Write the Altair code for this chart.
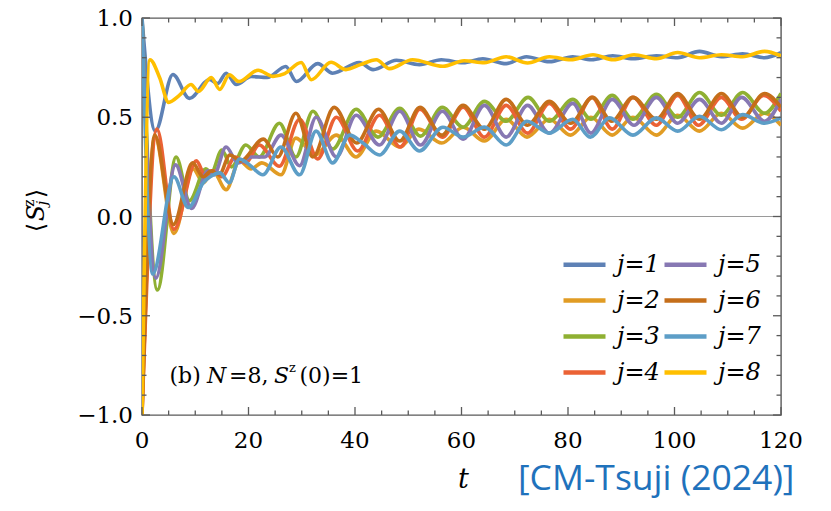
import altair as alt
import pandas as pd

# ---------------- data ----------------
T1 = [0, 2.5, 5.8, 8.9, 12.7, 14.2, 15.8, 17.7, 20.5, 23.5, 27.0, 29.0, 33.0, 35.8, 40.8, 43.4, 47.8,
      52.1, 56.2, 60.3, 64.0, 68.4, 72.2, 76.5, 80.9, 84.4, 88.4, 92.2, 96.6, 100.6, 104.7, 108.8, 112.8, 116.9, 120]
Y1 = [1.0, 0.43, 0.715, 0.595, 0.69, 0.67, 0.722, 0.665, 0.705, 0.70, 0.756, 0.68, 0.77, 0.722, 0.776, 0.74, 0.787,
      0.765, 0.79, 0.775, 0.795, 0.77, 0.805, 0.78, 0.805, 0.79, 0.81, 0.795, 0.81, 0.80, 0.832, 0.805, 0.82, 0.80, 0.825]

T2 = [0, 2.4, 6.0, 9.6, 11.5, 13.3, 15.8, 18.3, 20.5, 22.5, 26.1, 28.9, 32.5, 36.5, 40.2, 44.0, 48.4, 52.0, 56.3,
      60.3, 64.3, 68.4, 72.3, 76.5, 80.5, 84.3, 88.3, 92.2, 96.6, 100.6, 104.7, 108.8, 112.8, 116.9, 120]
Y2 = [-1.0, 0.40, -0.085, 0.24, 0.17, 0.23, 0.135, 0.28, 0.24, 0.27, 0.21, 0.395, 0.31, 0.41, 0.30, 0.43, 0.35, 0.44, 0.37,
      0.45, 0.38, 0.49, 0.40, 0.49, 0.41, 0.50, 0.41, 0.50, 0.41, 0.51, 0.43, 0.52, 0.445, 0.52, 0.46]

T3 = [0, 2.9, 6.4, 8.9, 12.0, 13.0, 15.0, 16.8, 19.5, 22.0, 25.8, 28.9, 32.1, 35.8, 40.2, 44.3, 48.4, 52.3, 56.4,
      60.3, 64.3, 68.4, 72.5, 76.5, 80.9, 84.3, 88.3, 92.2, 96.6, 100.6, 104.7, 108.8, 112.8, 116.9, 120]
Y3 = [1.0, -0.37, 0.30, 0.08, 0.24, 0.22, 0.335, 0.25, 0.36, 0.30, 0.47, 0.30, 0.53, 0.34, 0.54, 0.40, 0.545, 0.405, 0.55,
      0.45, 0.58, 0.48, 0.60, 0.48, 0.59, 0.49, 0.61, 0.49, 0.615, 0.50, 0.625, 0.51, 0.625, 0.52, 0.62]

T4 = [0, 2.8, 6.0, 10.2, 12.0, 13.5, 15.0, 17.5, 19.5, 22.0, 25.8, 29.6, 33.0, 36.5, 40.5, 44.6, 48.5, 52.2, 56.4,
      60.3, 64.3, 68.4, 72.4, 76.5, 80.5, 84.5, 88.3, 92.2, 96.6, 100.6, 104.5, 108.8, 112.6, 116.7, 120]
Y4 = [-1.0, 0.44, -0.065, 0.28, 0.20, 0.23, 0.20, 0.30, 0.27, 0.36, 0.253, 0.49, 0.29, 0.50, 0.33, 0.51, 0.35, 0.54, 0.40,
      0.55, 0.40, 0.56, 0.42, 0.57, 0.44, 0.60, 0.44, 0.60, 0.46, 0.61, 0.46, 0.60, 0.49, 0.61, 0.53]

T5 = [0, 2.6, 6.3, 9.3, 12.4, 13.5, 15.8, 18.0, 20.5, 23.0, 26.1, 29.6, 32.7, 36.5, 40.2, 44.6, 48.4, 52.3, 56.4,
      60.3, 64.3, 68.4, 72.4, 76.5, 80.9, 84.3, 88.3, 92.4, 96.6, 100.6, 104.7, 108.8, 112.6, 116.9, 120]
Y5 = [1.0, -0.31, 0.26, 0.04, 0.23, 0.21, 0.35, 0.27, 0.30, 0.30, 0.41, 0.256, 0.50, 0.30, 0.51, 0.36, 0.53, 0.36, 0.53,
      0.39, 0.56, 0.40, 0.56, 0.42, 0.57, 0.42, 0.59, 0.46, 0.60, 0.47, 0.59, 0.47, 0.60, 0.48, 0.59]

T6 = [0, 2.4, 5.9, 9.5, 11.5, 13.0, 14.5, 16.5, 18.5, 22.8, 25.5, 28.9, 32.1, 36.1, 40.3, 44.4, 48.4, 52.2, 56.3,
      60.3, 64.3, 68.4, 72.4, 76.5, 80.5, 84.6, 88.2, 92.2, 96.6, 100.6, 104.7, 108.8, 112.8, 116.9, 120]
Y6 = [-1.0, 0.41, -0.04, 0.27, 0.20, 0.23, 0.21, 0.31, 0.28, 0.39, 0.30, 0.52, 0.30, 0.55, 0.37, 0.54, 0.38, 0.55, 0.41,
      0.56, 0.44, 0.59, 0.46, 0.58, 0.47, 0.60, 0.48, 0.60, 0.49, 0.62, 0.49, 0.62, 0.50, 0.62, 0.55]

T7 = [0, 2.0, 6.0, 8.7, 11.5, 12.8, 14.6, 16.4, 18.3, 20.2, 22.7, 26.1, 29.6, 32.7, 35.8, 39.0, 41.5, 44.6, 48.4,
      52.1, 56.5, 60.3, 64.3, 68.4, 72.3, 76.5, 80.9, 84.2, 87.8, 92.2, 96.6, 100.6, 104.7, 108.8, 112.8, 116.9, 120]
Y7 = [1.0, -0.29, 0.20, 0.045, 0.17, 0.20, 0.22, 0.17, 0.29, 0.26, 0.21, 0.35, 0.21, 0.43, 0.27, 0.41, 0.37, 0.31, 0.43,
      0.33, 0.45, 0.40, 0.45, 0.36, 0.48, 0.42, 0.49, 0.40, 0.497, 0.41, 0.497, 0.43, 0.505, 0.437, 0.513, 0.47, 0.497]

T8 = [0, 1.5, 3.3, 5.0, 7.0, 9.2, 10.6, 13.0, 14.6, 16.4, 18.2, 21.8, 24.6, 26.8, 29.9, 31.8, 35.5, 38.3, 41.0, 44.0,
      46.5, 50.8, 56.5, 60.5, 64.3, 68.4, 72.4, 76.5, 80.5, 84.7, 88.5, 92.4, 96.6, 100.6, 104.7, 108.8, 112.8, 116.9, 120]
Y8 = [-1.0, 0.79, 0.70, 0.575, 0.61, 0.665, 0.63, 0.70, 0.64, 0.714, 0.68, 0.737, 0.706, 0.72, 0.776, 0.689, 0.777, 0.74, 0.765, 0.79,
      0.745, 0.79, 0.757, 0.785, 0.775, 0.805, 0.773, 0.805, 0.79, 0.815, 0.79, 0.815, 0.795, 0.826, 0.80, 0.815, 0.805, 0.832, 0.81]

LABELS = ["j=1", "j=2", "j=3", "j=4", "j=5", "j=6", "j=7", "j=8"]
COLORS = ["#5E81B5", "#E19C24", "#8FB032", "#EB6235", "#8778B3", "#C56E1A", "#5D9EC7", "#FFBF00"]

X_MAJOR = [0, 20, 40, 60, 80, 100, 120]
X_MINOR = [5, 10, 15, 25, 30, 35, 45, 50, 55, 65, 70, 75, 85, 90, 95, 105, 110, 115]
Y_MAJOR = [-1.0, -0.5, 0.0, 0.5, 1.0]
Y_MINOR = [-0.9, -0.8, -0.7, -0.6, -0.4, -0.3, -0.2, -0.1, 0.1, 0.2, 0.3, 0.4, 0.6, 0.7, 0.8, 0.9]

# ---------------- build tables ----------------
T_ALL = [T1, T2, T3, T4, T5, T6, T7, T8]
Y_ALL = [Y1, Y2, Y3, Y4, Y5, Y6, Y7, Y8]
rows = []
for k, (lab, ts, vs) in enumerate(zip(LABELS, T_ALL, Y_ALL)):
    for t, v in zip(ts, vs):
        rows.append({"t": t, "s": v, "j": lab, "k": k})
df = pd.DataFrame(rows)

W, H = 639, 397
FRAME = "#5a5a5a"
SERIF = "DejaVu Serif"

xs = alt.Scale(domain=[0, 120], nice=False, zero=False)
ysc = alt.Scale(domain=[-1, 1], nice=False, zero=False)

x_axis = alt.Axis(values=X_MAJOR, ticks=False, domain=False, grid=False, labels=False, title=None)
y_axis = alt.Axis(values=Y_MAJOR, ticks=False, domain=False, grid=False, labels=False, title=None)

zero = alt.Chart(pd.DataFrame({"s": [0.0]})).mark_rule(color="#9a9a9a", strokeWidth=1.2).encode(
    y=alt.Y("s:Q", scale=ysc, axis=y_axis))

lines = alt.Chart(df).mark_line(interpolate="monotone", strokeWidth=3.6, clip=True).encode(
    x=alt.X("t:Q", scale=xs, axis=x_axis),
    y=alt.Y("s:Q", scale=ysc, axis=y_axis),
    color=alt.Color("j:N",
                    scale=alt.Scale(domain=LABELS, range=COLORS),
                    legend=alt.Legend(orient="none", legendX=419, legendY=223, columns=2, title=None,
                                      symbolType="stroke", symbolSize=1764, symbolStrokeWidth=4.5,
                                      labelFont=SERIF, labelFontSize=24, labelFontStyle="italic",
                                      labelColor="black", labelOffset=9, columnPadding=-5,
                                      rowPadding=0, padding=0, labelLimit=200)),
    detail="k:N",
)

def xticks(vals, length):
    d = pd.DataFrame({"t": vals})
    base = alt.Chart(d).mark_rule(color=FRAME, strokeWidth=1.3)
    bot = base.encode(x=alt.X("t:Q", scale=xs, axis=x_axis), y=alt.value(H), y2=alt.value(H - length))
    top = base.encode(x=alt.X("t:Q", scale=xs, axis=x_axis), y=alt.value(0), y2=alt.value(length))
    return [bot, top]

def yticks(vals, length):
    d = pd.DataFrame({"s": vals})
    base = alt.Chart(d).mark_rule(color=FRAME, strokeWidth=1.3)
    lef = base.encode(y=alt.Y("s:Q", scale=ysc, axis=y_axis), x=alt.value(0), x2=alt.value(length))
    rig = base.encode(y=alt.Y("s:Q", scale=ysc, axis=y_axis), x=alt.value(W), x2=alt.value(W - length))
    return [lef, rig]

tick_layers = xticks(X_MAJOR, 8) + xticks(X_MINOR, 4.5) + yticks(Y_MAJOR, 8) + yticks(Y_MINOR, 4.5)

xlab = alt.Chart(pd.DataFrame({"t": X_MAJOR, "lab": [str(v) for v in X_MAJOR]})).mark_text(
    font=SERIF, fontSize=23, color="black", align="center", baseline="alphabetic").encode(
    x=alt.X("t:Q", scale=xs, axis=x_axis), y=alt.value(H + 33), text="lab:N")
ylab_ticks = alt.Chart(pd.DataFrame({"s": Y_MAJOR,
                                     "lab": [("\u2212" if v < 0 else "") + f"{abs(v):.1f}" for v in Y_MAJOR]})).mark_text(
    font=SERIF, fontSize=23, color="black", align="right", baseline="middle", dx=-9, dy=1).encode(
    y=alt.Y("s:Q", scale=ysc, axis=y_axis), x=alt.value(0), text="lab:N")

one = pd.DataFrame({"a": [1]})

def txt(s, x, y, size, style="normal", font=SERIF, color="black", angle=0, align="left", baseline="alphabetic"):
    return alt.Chart(one).mark_text(text=s, font=font, fontSize=size, fontStyle=style, color=color,
                                    angle=angle, align=align, baseline=baseline).encode(
        x=alt.value(x), y=alt.value(y))

annot = [
    txt("(b)", 27.5, 364.5, 22),
    txt("N", 65, 364.5, 22, style="italic"),
    txt("=8,", 87, 364.5, 22),
    txt("S", 132, 364.5, 22, style="italic"),
    txt("z", 147, 354, 13),
    txt("(0)=1", 157.5, 364.5, 22),
    txt("t", 316, 469.5, 27, style="italic"),
    txt("[CM-Tsuji (2024)]", 376, 472, 35.5, font="Open Sans", color="#1F72BC"),
]

ylab = [
    txt("\u27e8", -105.5, 209.5, 24, angle=270, align="center", baseline="middle"),
    txt("S", -105.5, 195, 24, style="italic", angle=270, align="center", baseline="middle"),
    txt("z", -112, 185, 14, angle=270, align="center", baseline="middle"),
    txt("j", -99.5, 185, 14, style="italic", angle=270, align="center", baseline="middle"),
    txt("\u27e9", -105.5, 175.5, 24, angle=270, align="center", baseline="middle"),
]

chart = alt.layer(zero, lines, *tick_layers, xlab, ylab_ticks, *annot, *ylab).properties(
    width=W, height=H,
    autosize=alt.AutoSizeParams(type="none"),
    padding={"left": 134, "top": 10, "right": 42, "bottom": 86},
).configure(
    background="white", font=SERIF
).configure_view(
    stroke=FRAME, strokeWidth=1.4
).configure_legend(
    labelFont=SERIF
)

chart.save("out.html", embed_options={"renderer": "svg", "actions": False})
